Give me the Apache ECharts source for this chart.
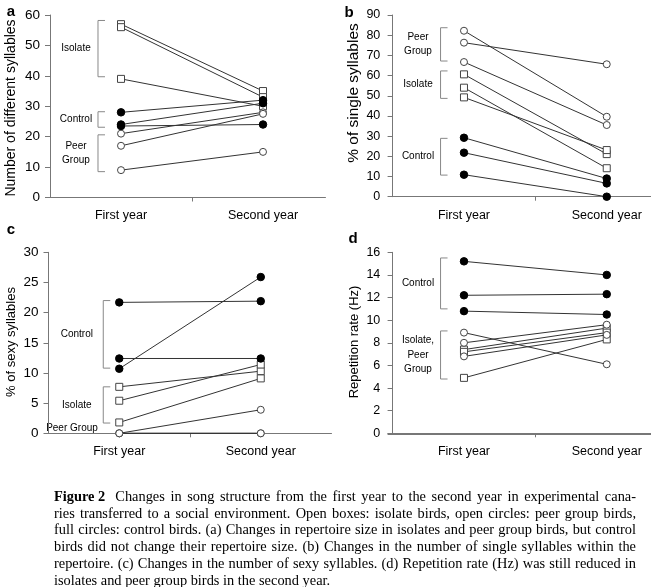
<!DOCTYPE html>
<html><head><meta charset="utf-8">
<script src="https://cdn.jsdelivr.net/npm/echarts@6/dist/echarts.min.js"></script>
<style>html,body{margin:0;padding:0;background:#fff}#c{width:651px;height:587px}</style>
</head><body><div id="c"></div>
<script>
// ---------- categories ----------
const years = ['First year', 'Second year'];
const yearX = [0.5, 1.5];

// ---------- panel a: number of different syllables [first, second] ----------
const aIsolate = [[57, 35], [56, 33], [39, 30]];
const aControl = [[28, 32], [24, 31], [23.5, 24]];
const aPeer = [[21, 28], [17, 27.5], [9, 15]];
const aYTicks = [0, 10, 20, 30, 40, 50, 60];
const aTitle = 'Number of different syllables';
const aBrackets = [['Isolate', 58.2, 39.7], ['Control', 28.2, 23.1], ['Peer\nGroup', 20.6, 8.5]];

// ---------- panel b: % of single syllables ----------
const bPeer = [[82.2, 39.6], [76.3, 65.6], [66.7, 35.5]];
const bIsolate = [[60.6, 21.1], [54, 14.1], [49.2, 23.1]];
const bControl = [[29.2, 9], [21.8, 6.6], [10.9, 0]];
const bYTicks = [0, 10, 20, 30, 40, 50, 60, 70, 80, 90];
const bTitle = '% of single syllables';
const bBrackets = [['Peer\nGroup', 83.7, 67.2], ['Isolate', 62.3, 48.7], ['Control', 28.9, 10.7]];

// ---------- panel c: % of sexy syllables ----------
const cControl = [[21.7, 21.9], [12.4, 12.4], [10.7, 25.9]];
const cIsolate = [[7.7, 10.3], [5.4, 11.4], [1.8, 9.1]];
const cPeer = [[0, 3.9], [0, 0], [0, 0]];
const cYTicks = [0, 5, 10, 15, 20, 25, 30];
const cTitle = '% of sexy syllables';
const cBrackets = [['Control', 22, 10.8], ['Isolate', 7.7, 1.7]];
const cExtraLabels = [['Peer Group', 0.9]];

// ---------- panel d: repetition rate (Hz) ----------
const dControl = [[15.2, 14.0], [12.2, 12.3], [10.8, 10.5]];
const dPeer = [[8.9, 6.1], [8.0, 9.6], [6.8, 8.7]];
const dIsolate = [[7.4, 9.3], [7.2, 8.9], [4.9, 8.3]];
const dYTicks = [0, 2, 4, 6, 8, 10, 12, 14, 16];
const dTitle = 'Repetition rate (Hz)';
const dBrackets = [['Control', 15.5, 11.0], ['Isolate,\nPeer\nGroup', 9.05, 4.8]];

// ---------- caption ----------
const captionHead = 'Figure 2';
const captionLines = [
  'Changes in song structure from the first year to the second year in experimental cana-',
  'ries transferred to a social environment. Open boxes: isolate birds, open circles: peer group birds,',
  'full circles: control birds. (a) Changes in repertoire size in isolates and peer group birds, but control',
  'birds did not change their repertoire size. (b) Changes in the number of single syllables within the',
  'repertoire. (c) Changes in the number of sexy syllables. (d) Repetition rate (Hz) was still reduced in',
  'isolates and peer group birds in the second year.'
];

const SANS = '"Liberation Sans", Arial, sans-serif';
const SERIF = '"Liberation Serif", "Times New Roman", serif';

const panels = [
  {letter: 'a', title: aTitle, ticks: aYTicks, isolate: aIsolate, control: aControl, peer: aPeer, brackets: aBrackets, extra: [],
   L: {left: 50, top: 15, height: 182.5, unit: 142, xmin: 0, xmax: 1.94, tickFont: 13.5, titleFont: 14, titlePos: [11, 108], labelMargin: 10, bx: 0.338, lx: 0.183, letter: [11, 12], xw: 1}},
  {letter: 'b', title: bTitle, ticks: bYTicks, isolate: bIsolate, control: bControl, peer: bPeer, brackets: bBrackets, extra: [],
   L: {left: 388.3, top: 15, height: 181.7, unit: 143, xmin: -0.03, xmax: 1.81, tickFont: 12.5, titleFont: 15.5, titlePos: [354, 93], labelMargin: 8, bx: 0.336, lx: 0.178, letter: [349, 13], xw: 1}},
  {letter: 'c', title: cTitle, ticks: cYTicks, isolate: cIsolate, control: cControl, peer: cPeer, brackets: cBrackets, extra: cExtraLabels,
   L: {left: 48.5, top: 252.3, height: 181, unit: 141.5, xmin: 0, xmax: 2.0, tickFont: 13.5, titleFont: 13, titlePos: [11, 342], labelMargin: 10, bx: 0.387, lx: 0.2, elx: 0.166, letter: [11, 230], xw: 1}},
  {letter: 'd', title: dTitle, ticks: dYTicks, isolate: dIsolate, control: dControl, peer: dPeer, brackets: dBrackets, extra: [],
   L: {left: 388.3, top: 252.3, height: 181, unit: 143, xmin: -0.03, xmax: 1.81, tickFont: 12.5, titleFont: 13, titlePos: [354, 342], labelMargin: 8, bx: 0.336, lx: 0.178, letter: [353, 239], xw: 2}}
];

const LINE = '#333';
const AXIS = '#777';
const BRACKET = '#888';

const grid = [], xAxis = [], yAxis = [], series = [];
panels.forEach((p, i) => {
  const L = p.L;
  grid.push({left: L.left, top: L.top, width: (L.xmax - L.xmin) * L.unit, height: L.height, containLabel: false});
  xAxis.push({
    gridIndex: i, type: 'value', min: L.xmin, max: L.xmax,
    axisLine: {show: true, onZero: false, lineStyle: {color: AXIS, width: L.xw}},
    axisTick: {show: true, customValues: [1], length: 4, lineStyle: {color: AXIS}},
    axisLabel: {show: true, customValues: yearX, formatter: v => years[v < 1 ? 0 : 1], margin: 12,
                fontSize: 12.5, color: '#000', fontFamily: SANS},
    splitLine: {show: false}
  });
  yAxis.push({
    gridIndex: i, type: 'value', min: p.ticks[0], max: p.ticks[p.ticks.length - 1], interval: p.ticks[1] - p.ticks[0],
    axisLine: {show: true, lineStyle: {color: AXIS}},
    axisTick: {show: true, length: 5, lineStyle: {color: AXIS}},
    axisLabel: {fontSize: L.tickFont, color: '#000', fontFamily: SANS, margin: L.labelMargin},
    splitLine: {show: false}
  });
  // brackets
  const t = 7 / L.unit;
  p.brackets.forEach(b => {
    series.push({type: 'line', xAxisIndex: i, yAxisIndex: i, silent: true, symbol: 'none', animation: false,
      data: [[L.bx + t, b[1]], [L.bx, b[1]], [L.bx, b[2]], [L.bx + t, b[2]]],
      lineStyle: {color: BRACKET, width: 1}, z: 1});
  });
  const styles = {
    isolate: {symbol: 'rect', symbolSize: 7, itemStyle: {color: '#fff', borderColor: '#444', borderWidth: 1}},
    peer: {symbol: 'circle', symbolSize: 7, itemStyle: {color: '#fff', borderColor: '#444', borderWidth: 1}},
    control: {symbol: 'circle', symbolSize: 7.5, itemStyle: {color: '#000', borderColor: '#000', borderWidth: 1}}
  };
  ['isolate', 'peer', 'control'].forEach(g => {
    p[g].forEach(pair => {
      series.push(Object.assign({type: 'line', xAxisIndex: i, yAxisIndex: i, animation: false, silent: true,
        data: yearX.map((x, k) => [x, pair[k]]), showAllSymbol: true, clip: false,
        lineStyle: {color: LINE, width: 1}, z: 3}, styles[g]));
    });
  });
});

const chart = echarts.init(document.getElementById('c'), null, {renderer: 'canvas'});
chart.setOption({animation: false, backgroundColor: '#fff', grid, xAxis, yAxis, series});

// ---------- texts: panel letters, axis titles, group labels, caption ----------
const graphic = [];
panels.forEach((p, i) => {
  const L = p.L;
  graphic.push({type: 'text', x: L.letter[0], y: L.letter[1],
    style: {text: p.letter, font: 'bold 15px ' + SANS, fill: '#000', textAlign: 'center', textVerticalAlign: 'middle'}});
  graphic.push({type: 'text', x: L.titlePos[0], y: L.titlePos[1], rotation: Math.PI / 2,
    style: {text: p.title, font: L.titleFont + 'px ' + SANS, fill: '#000', textAlign: 'center', textVerticalAlign: 'middle'}});
  p.brackets.forEach(b => {
    const pt = chart.convertToPixel({gridIndex: i}, [L.lx, (b[1] + b[2]) / 2]);
    graphic.push({type: 'text', x: pt[0], y: pt[1],
      style: {text: b[0], font: '10px ' + SANS, fill: '#000', textAlign: 'center', textVerticalAlign: 'middle', lineHeight: 14.5}});
  });
  p.extra.forEach(e => {
    const pt = chart.convertToPixel({gridIndex: i}, [L.elx, e[1]]);
    graphic.push({type: 'text', x: pt[0], y: pt[1],
      style: {text: e[0], font: '10px ' + SANS, fill: '#000', textAlign: 'center', textVerticalAlign: 'middle'}});
  });
});

// caption, justified by word placement
const capFont = 14.4;
const capLeft = 54, capRight = 636, capTop = 497, capLH = 16.8;
const ctx = document.createElement('canvas').getContext('2d');
function w(text, bold) { ctx.font = (bold ? 'bold ' : '') + capFont + 'px ' + SERIF; return ctx.measureText(text).width; }
captionLines.forEach((line, li) => {
  let tokens = line.split(' ').map(t => ({t, b: false}));
  let x0 = capLeft;
  const y = capTop + li * capLH;
  if (li === 0) {
    graphic.push({type: 'text', x: capLeft, y, style: {text: captionHead, font: 'bold ' + capFont + 'px ' + SERIF, fill: '#000', textVerticalAlign: 'middle'}});
    x0 = capLeft + w(captionHead, true) + 10;
  }
  const last = li === captionLines.length - 1;
  const total = tokens.reduce((s, k) => s + w(k.t), 0);
  const gap = last ? w(' ') : (capRight - x0 - total) / (tokens.length - 1);
  let x = x0;
  tokens.forEach(k => {
    graphic.push({type: 'text', x, y, style: {text: k.t, font: capFont + 'px ' + SERIF, fill: '#000', textVerticalAlign: 'middle'}});
    x += w(k.t) + gap;
  });
});
chart.setOption({graphic});
</script></body></html>
